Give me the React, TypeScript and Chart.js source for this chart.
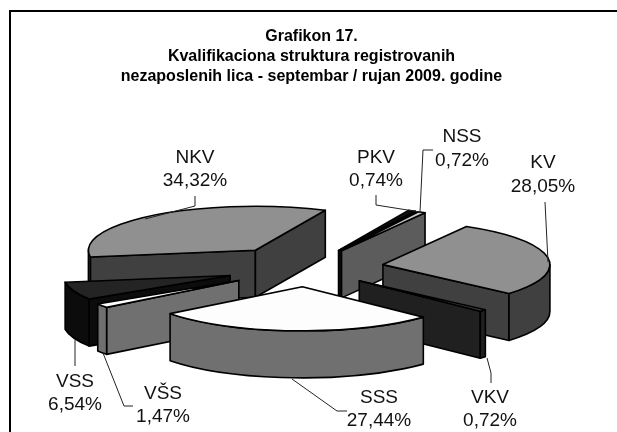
import React, { useEffect, useRef } from "react";
import { Chart, registerables } from "chart.js";

Chart.register(...registerables);

const categories = ["KV", "VKV", "SSS", "VŠS", "VSS", "NKV", "PKV", "NSS"];
const shares = [28.05, 0.72, 27.44, 1.47, 6.54, 34.32, 0.74, 0.72];
const titleLines = [
  "Grafikon 17.",
  "Kvalifikaciona struktura registrovanih",
  "nezaposlenih lica - septembar / rujan 2009. godine",
];

const topColors = ["#909090", "#404040", "#fdfdfd", "#fdfdfd", "#242424", "#909090", "#101010", "#c8c8c8"];
const wallColors = ["#404040", "#202020", "#707070", "#707070", "#0c0c0c", "#404040", "#0c0c0c", "#5c5c5c"];
const explode = [78, 72, 71, 82, 81, 84, 74, 74];

const PIE = { x: 306, y: 268, r: 167, k: 0.264, depth: 47 };
const FONT = '19px "Liberation Sans", Arial, sans-serif';

// label centres [x, firstLineY, secondLineY]
const labelPos = [
  [543, 163, 187],
  [490, 398, 421],
  [379, 398, 421],
  [163, 394, 417],
  [75, 382, 405],
  [195, 158, 181],
  [376, 158, 181],
  [462, 137, 161],
];
const leaders = [
  [[545, 202], [548, 262]],
  [[491, 383], [491, 373], [487, 358]],
  [[292, 379], [337, 411], [347, 411]],
  [[103, 353], [124, 406], [133, 406]],
  [[75, 366], [75, 340]],
  [[195, 196], [195, 206], [145, 219]],
  [[376, 195], [376, 205], [420, 212]],
  [[433, 150], [423, 150], [420, 212]],
];

const pie3d = {
  id: "pie3d",
  beforeDatasetDraw(chart: any, args: any) {
    const { ctx } = chart;
    const meta = chart.getDatasetMeta(args.index);
    const R = PIE.r;
    const RY = R * PIE.k;
    const H = PIE.depth;
    const order = meta.data
      .map((el: any, i: number) => ({ el, i, mid: (el.startAngle + el.endAngle) / 2 }))
      .sort((a: any, b: any) => Math.sin(a.mid) - Math.sin(b.mid));

    ctx.save();
    ctx.lineWidth = 1.6;
    ctx.lineJoin = "round";
    ctx.strokeStyle = "#000";
    for (const { el, i, mid } of order) {
      const s = el.startAngle;
      const e = el.endAngle;
      const off = el.options.offset;
      const ax = PIE.x + off * Math.cos(mid);
      const ay = PIE.y + off * Math.sin(mid) * PIE.k;
      const face = (a: number) => {
        const tx = ax + R * Math.cos(a);
        const ty = ay + RY * Math.sin(a);
        ctx.beginPath();
        ctx.moveTo(ax, ay);
        ctx.lineTo(tx, ty);
        ctx.lineTo(tx, ty + H);
        ctx.lineTo(ax, ay + H);
        ctx.closePath();
        ctx.fillStyle = wallColors[i];
        ctx.fill();
        ctx.stroke();
      };
      if (Math.cos(s) < 0) face(s);
      if (Math.cos(e) > 0) face(e);
      const lo = Math.max(s, 0);
      const hi = Math.min(e, Math.PI);
      if (hi > lo) {
        ctx.beginPath();
        ctx.ellipse(ax, ay, R, RY, 0, lo, hi);
        ctx.ellipse(ax, ay + H, R, RY, 0, hi, lo, true);
        ctx.closePath();
        ctx.fillStyle = wallColors[i];
        ctx.fill();
        ctx.stroke();
      }
      ctx.beginPath();
      ctx.moveTo(ax, ay);
      ctx.ellipse(ax, ay, R, RY, 0, s, e);
      ctx.closePath();
      ctx.fillStyle = el.options.backgroundColor;
      ctx.fill();
      ctx.stroke();
    }
    ctx.restore();
    return false;
  },
  afterDraw(chart: any) {
    const { ctx, width, height } = chart;
    ctx.save();
    ctx.strokeStyle = "#000";
    ctx.lineWidth = 2;
    ctx.beginPath();
    ctx.moveTo(10, height);
    ctx.lineTo(10, 11);
    ctx.lineTo(width, 11);
    ctx.stroke();

    ctx.lineWidth = 1;
    ctx.strokeStyle = "#222";
    for (const path of leaders) {
      ctx.beginPath();
      path.forEach(([x, y]: number[], n: number) => (n ? ctx.lineTo(x, y) : ctx.moveTo(x, y)));
      ctx.stroke();
    }
    ctx.fillStyle = "#111";
    ctx.font = FONT;
    ctx.textAlign = "center";
    ctx.textBaseline = "middle";
    categories.forEach((name, i) => {
      const [x, y1, y2] = labelPos[i];
      ctx.fillText(name, x, y1);
      ctx.fillText(shares[i].toFixed(2).replace(".", ",") + "%", x, y2);
    });
    ctx.restore();
  },
};

export default function App() {
  const ref = useRef<HTMLCanvasElement>(null);
  useEffect(() => {
    const chart = new Chart(ref.current as HTMLCanvasElement, {
      type: "pie",
      data: {
        labels: categories,
        datasets: [{ data: shares, backgroundColor: topColors, offset: explode, borderWidth: 0 }],
      },
      options: {
        animation: false,
        responsive: false,
        rotation: 30,
        radius: PIE.r,
        layout: { padding: { left: 6 } },
        plugins: {
          legend: { display: false },
          tooltip: { enabled: false },
          title: {
            display: true,
            text: titleLines,
            color: "#000",
            padding: { top: 27, bottom: 0 },
            font: { family: '"Liberation Sans", Arial, sans-serif', size: 16, weight: "bold", lineHeight: 1.25 },
          },
        },
      },
      plugins: [pie3d],
    } as any);
    return () => chart.destroy();
  }, []);
  return (
    <div style={{ position: "absolute", left: 0, top: 0, width: 617, height: 432, background: "#fff" }}>
      <canvas ref={ref} width={617} height={432} style={{ display: "block" }} />
    </div>
  );
}
